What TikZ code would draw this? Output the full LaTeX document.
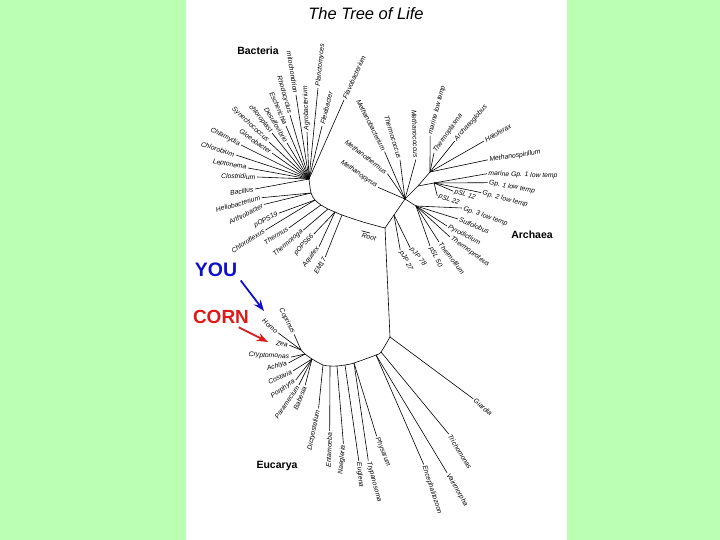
\documentclass[tikz,border=0pt]{standalone}
\usepackage{fontspec}
\setmainfont{Liberation Sans}
\usetikzlibrary{arrows.meta}
\definecolor{bggreen}{RGB}{187,255,180}
\definecolor{youblue}{RGB}{16,16,204}
\definecolor{cornred}{RGB}{221,26,26}

\begin{document}
\begin{tikzpicture}[x=1pt,y=-1pt,>=Stealth,
  lbl/.style={font=\fontsize{6.8}{8}\selectfont\itshape,inner sep=1.5pt},
  grp/.style={font=\fontsize{10.5}{12}\selectfont\bfseries},
  br/.style={line width=0.6pt}]
  \useasboundingbox (0,0) rectangle (720,540);
  \fill[bggreen] (0,0) rectangle (720,540);
  \fill[white] (186,0) rectangle (567,540);

  \node[font=\fontsize{16.5}{18}\selectfont\itshape] (title) at (366,14) {The Tree of Life};

  % Inner tree
  \coordinate (root) at (385,228);
  \coordinate (bh) at (309,179);
  \coordinate (ba) at (311,193);
  \coordinate (bb) at (315,200);
  \coordinate (bc) at (321,205);
  \coordinate (bd) at (328,209);
  \coordinate (be) at (335,212);
  \coordinate (bf) at (342,215);
  \coordinate (bg) at (363,222);
  \draw[br] plot[smooth] coordinates {(bh) (ba) (bb) (bc) (bd) (be) (bf) (bg) (root)};

  \coordinate (aj) at (394,215);
  \coordinate (ah) at (405,199);
  \coordinate (ak) at (418,186);
  \coordinate (ae) at (430,172);
  \coordinate (al) at (434,183);
  \coordinate (ac) at (416,206);
  \draw[br] (root) -- (aj) -- (ah) -- (ak) -- (ae);
  \draw[br] (ak) -- (al);
  \draw[br] (ah) -- (ac);

  \coordinate (ej) at (390,337);
  \coordinate (e1) at (381,352);
  \coordinate (e2) at (376,355);
  \coordinate (e3) at (354,363);
  \coordinate (e4) at (345,365);
  \coordinate (e5) at (337,366);
  \coordinate (e6) at (330,366);
  \coordinate (e7) at (323,365);
  \coordinate (e8) at (312,359);
  \coordinate (e9) at (305,354);
  \coordinate (e10) at (301,350);
  \draw[br] (root) -- (ej);
  \draw[br] plot[smooth] coordinates {(ej) (e1) (e2) (e3) (e4) (e5) (e6) (e7) (e8) (e9) (e10)};

  \node[lbl,rotate=-15] (rootlbl) at (369,237) {Root};
  \draw[br] (rootlbl.north west) -- (rootlbl.north);

  % Bacteria
  \node[grp] (bact) at (258,51) {Bacteria};
  \node[lbl,rotate=-81,anchor=east] (mito) at (296,95) {mitochondrion};
  \draw[br] (mito.east) -- (bh);
  \node[lbl,rotate=92,anchor=west] (agro) at (307,132) {Agrobacterium};
  \draw[br] (agro.west) -- (bh);
  \node[lbl,rotate=84,anchor=west] (planc) at (318,88) {Planctomyces};
  \draw[br] (planc.west) -- (bh);
  \node[lbl,rotate=76,anchor=west] (flexi) at (322,126) {Flexibacter};
  \draw[br] (flexi.west) -- (bh);
  \node[lbl,rotate=66,anchor=west] (flavo) at (344,100) {Flavobacterium};
  \draw[br] (flavo.west) -- (bh);
  \node[lbl,rotate=-74,anchor=east] (rhodo) at (290,115) {Rhodocyclus};
  \draw[br] (rhodo.east) -- (bh);
  \node[lbl,rotate=-67,anchor=east] (esch) at (286,126) {Escherichia};
  \draw[br] (esch.east) -- (bh);
  \node[lbl,rotate=-59,anchor=east] (desulfo) at (287,143) {Desulfovibrio};
  \draw[br] (desulfo.east) -- (bh);
  \node[lbl,rotate=-51,anchor=east] (chloro) at (272,133) {chloroplast};
  \draw[br] (chloro.east) -- (bh);
  \node[lbl,rotate=-43,anchor=east] (synech) at (269,142) {Synechococcus};
  \draw[br] (synech.east) -- (bh);
  \node[lbl,rotate=-35,anchor=east] (gloeo) at (272,153) {Gloeobacter};
  \draw[br] (gloeo.east) -- (bh);
  \node[lbl,rotate=-27,anchor=east] (chlam) at (241,145) {Chlamydia};
  \draw[br] (chlam.east) -- (bh);
  \node[lbl,rotate=-18,anchor=east] (chlorob) at (236,155) {Chlorobium};
  \draw[br] (chlorob.east) -- (bh);
  \node[lbl,rotate=-10,anchor=east] (lepto) at (248,168) {Leptonema};
  \draw[br] (lepto.east) -- (bh);
  \node[lbl,rotate=-2,anchor=east] (clost) at (257,177) {Clostridium};
  \draw[br] (clost.east) -- (bh);
  \node[lbl,rotate=10,anchor=east] (bacil) at (255,189) {Bacillus};
  \draw[br] (bacil.east) -- (bh);
  \node[lbl,rotate=15] (helio) at (238,204) {Heliobacterium};
  \draw[br] (helio.east) -- (ba);
  \node[lbl,rotate=28] (arthro) at (246,214) {Arthrobacter};
  \draw[br] (arthro.east) -- (ba);
  \node[lbl,rotate=28] (opsA) at (266,220) {pOPS19};
  \draw[br] (opsA.east) -- (bb);
  \node[lbl,rotate=32] (chlflex) at (248,241) {Chloroflexus};
  \draw[br] (chlflex.east) -- (bb);
  \node[lbl,rotate=32] (thermus) at (276,236) {Thermus};
  \draw[br] (thermus.east) -- (bc);
  \node[lbl,rotate=40] (thermot) at (288,243) {Thermotoga};
  \draw[br] (thermot.east) -- (bd);
  \node[lbl,rotate=48] (opsB) at (304,245) {pOPS66};
  \draw[br] (opsB.east) -- (be);
  \node[lbl,rotate=52] (aquif) at (311,257) {Aquifex};
  \draw[br] (aquif.east) -- (be);
  \node[lbl,rotate=60] (em) at (320,266) {EM17};
  \draw[br] (em.east) -- (bf);

  % Archaea
  \node[grp] (arch) at (532,235) {Archaea};
  \node[lbl,rotate=-35] (mpyrus) at (359,174) {Methanopyrus};
  \draw[br] (mpyrus.east) -- (ah);
  \node[lbl,rotate=-38] (mtherm) at (366,157) {Methanothermus};
  \draw[br] (mtherm.east) -- (ah);
  \node[lbl,rotate=-63] (mbact) at (371,125) {Methanobacterium};
  \draw[br] (mbact.east) -- (ah);
  \node[lbl,rotate=-73] (tcoccus) at (393,137) {Thermococcus};
  \draw[br] (tcoccus.east) -- (ah);
  \node[lbl,rotate=-88] (mcoccus) at (415,134) {Methanococcus};
  \draw[br] (mcoccus.east) -- (ah);
  \node[lbl,rotate=75] (marlow) at (437,110) {marine low temp};
  \draw[br] (marlow.west) -- (ae);
  \node[lbl,rotate=55] (tplasma) at (448,133) {Thermoplasma};
  \draw[br] (tplasma.west) -- (ae);
  \node[lbl,rotate=48] (aglob) at (471,123) {Archaeoglobus};
  \draw[br] (aglob.west) -- (ae);
  \node[lbl,rotate=30] (halo) at (498,133) {Haloferax};
  \draw[br] (halo.west) -- (ae);
  \node[lbl,rotate=8] (mspir) at (515,156) {Methanospirillum};
  \draw[br] (mspir.west) -- (ae);
  \node[lbl,rotate=-2] (marg1) at (523,175) {marine Gp. 1 low temp};
  \draw[br] (marg1.west) -- (al);
  \node[lbl,rotate=-10] (g1) at (512,187) {Gp. 1 low temp};
  \draw[br] (g1.west) -- (al);
  \node[lbl,rotate=-15] (g2) at (505,199) {Gp. 2 low temp};
  \draw[br] (g2.west) -- (al);
  \node[lbl,rotate=-18] (psl12) at (465,195) {pSL 12};
  \draw[br] (psl12.west) -- (al);
  \node[lbl,rotate=-20] (psl22) at (449,200) {pSL 22};
  \draw[br] (psl22.west) -- (al);
  \node[lbl,rotate=-20,anchor=west] (g3) at (462,208) {Gp. 3 low temp};
  \draw[br] (g3.west) -- (ac);
  \node[lbl,rotate=-22,anchor=west] (sulfo) at (458,219) {Sulfolobus};
  \draw[br] (sulfo.west) -- (ac);
  \node[lbl,rotate=-28,anchor=west] (pyro) at (447,226) {Pyrodictium};
  \draw[br] (pyro.west) -- (ac);
  \node[lbl,rotate=-36,anchor=west] (tproteus) at (450,237) {Thermoproteus};
  \draw[br] (tproteus.west) -- (ac);
  \node[lbl,rotate=-52,anchor=west] (tfilum) at (439,242) {Thermofilum};
  \draw[br] (tfilum.west) -- (ac);
  \node[lbl,rotate=-64,anchor=west] (psl50) at (430,246) {pSL 50};
  \draw[br] (psl50.west) -- (ac);
  \node[lbl,rotate=-50] (pjp78) at (418,257) {pJP 78};
  \draw[br] (pjp78.west) -- (aj);
  \node[lbl,rotate=-62] (pjp27) at (406,261) {pJP 27};
  \draw[br] (pjp27.west) -- (aj);

  % Eucarya
  \node[grp] (euc) at (277,466) {Eucarya};
  \node[lbl,rotate=-40] (giardia) at (483,407) {Giardia};
  \draw[br] (giardia.west) -- (ej);
  \node[lbl,rotate=-58] (tricho) at (460,452) {Trichomonas};
  \draw[br] (tricho.west) -- (e1);
  \node[lbl,rotate=-60] (vairi) at (457,490) {Vairimorpha};
  \draw[br] (vairi.west) -- (e2);
  \node[lbl,rotate=-72] (enceph) at (432,490) {Encephalitozoon};
  \draw[br] (enceph.west) -- (e2);
  \node[lbl,rotate=-68] (physa) at (383,452) {Physarum};
  \draw[br] (physa.west) -- (e3);
  \node[lbl,rotate=-75] (trypa) at (374,482) {Trypanosoma};
  \draw[br] (trypa.west) -- (e3);
  \node[lbl,rotate=-85] (eugl) at (360,475) {Euglena};
  \draw[br] (eugl.west) -- (e4);
  \node[lbl,rotate=85] (naeg) at (342,460) {Naegleria};
  \draw[br] (naeg.east) -- (e5);
  \node[lbl,rotate=88] (entam) at (329,450) {Entamoeba};
  \draw[br] (entam.east) -- (e6);
  \node[lbl,rotate=78] (dicty) at (314,430) {Dictyostelium};
  \draw[br] (dicty.east) -- (e7);
  \node[lbl,rotate=-62] (copri) at (287,321) {Coprinus};
  \draw[br] (copri.east) -- (e10);
  \node[lbl,rotate=-40] (homo) at (270,326) {Homo};
  \draw[br] (homo.east) -- (e10);
  \node[lbl,rotate=-10] (zea) at (282,344) {Zea};
  \draw[br] (zea.east) -- (e10);
  \node[lbl,rotate=-3] (crypto) at (269,356) {Cryptomonas};
  \draw[br] (crypto.east) -- (e9);
  \node[lbl,rotate=15] (achlya) at (277,366) {Achlya};
  \draw[br] (achlya.east) -- (e9);
  \node[lbl,rotate=25] (costa) at (280,377) {Costaria};
  \draw[br] (costa.east) -- (e8);
  \node[lbl,rotate=35] (porph) at (283,389) {Porphyra};
  \draw[br] (porph.east) -- (e8);
  \node[lbl,rotate=55] (param) at (287,402) {Paramecium};
  \draw[br] (param.east) -- (e8);
  \node[lbl,rotate=68] (babes) at (300,398) {Babesia};
  \draw[br] (babes.east) -- (e8);

  % YOU and CORN
  \node[font=\fontsize{19.5}{22}\selectfont\bfseries,text=youblue] (you) at (216,270) {YOU};
  \node[font=\fontsize{19}{22}\selectfont\bfseries,text=cornred] (corn) at (221,317) {CORN};
  \coordinate (youend) at (264,311);
  \coordinate (cornend) at (268,342);
  \draw[->,line width=1.8pt,youblue] (you.south east) -- (youend);
  \draw[->,line width=1.8pt,cornred] (corn.-30) -- (cornend);
\end{tikzpicture}
\end{document}
